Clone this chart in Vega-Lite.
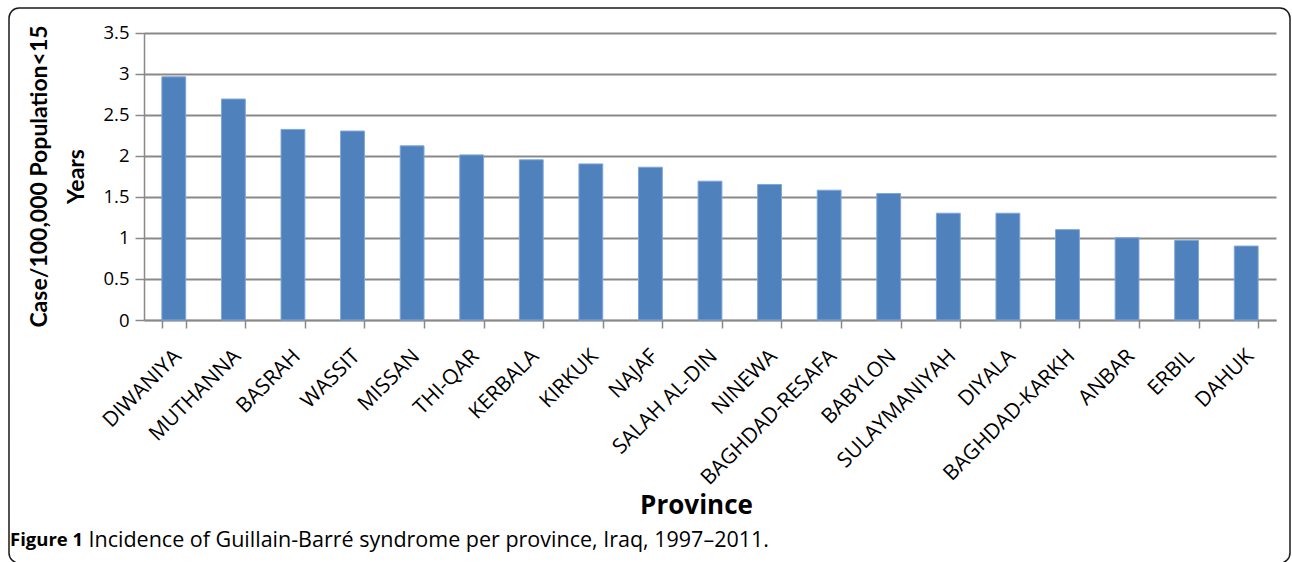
{
  "$schema": "https://vega.github.io/schema/vega-lite/v6.json",
  "width": 1281,
  "height": 555,
  "autosize": {"type": "none"},
  "padding": {"left": 9, "top": 8, "right": 2, "bottom": 0},
  "background": "white",
  "config": {
    "view": {"stroke": "#1a1a1a", "strokeWidth": 1.5, "cornerRadius": 10},
    "font": "Open Sans"
  },
  "title": {
    "text": "Figure 1",
    "orient": "bottom",
    "anchor": "start",
    "frame": "group",
    "offset": -23,
    "baseline": "middle",
    "font": "Open Sans",
    "fontSize": 18.5,
    "fontWeight": "bold",
    "color": "black",
    "dx": 1
  },
  "data": {
    "values": [
      {"province": "DIWANIYA", "rate": 2.96},
      {"province": "MUTHANNA", "rate": 2.69},
      {"province": "BASRAH", "rate": 2.32},
      {"province": "WASSIT", "rate": 2.30},
      {"province": "MISSAN", "rate": 2.12},
      {"province": "THI-QAR", "rate": 2.01},
      {"province": "KERBALA", "rate": 1.95},
      {"province": "KIRKUK", "rate": 1.90},
      {"province": "NAJAF", "rate": 1.86},
      {"province": "SALAH AL-DIN", "rate": 1.69},
      {"province": "NINEWA", "rate": 1.65},
      {"province": "BAGHDAD-RESAFA", "rate": 1.58},
      {"province": "BABYLON", "rate": 1.54},
      {"province": "SULAYMANIYAH", "rate": 1.30},
      {"province": "DIYALA", "rate": 1.30},
      {"province": "BAGHDAD-KARKH", "rate": 1.10},
      {"province": "ANBAR", "rate": 1.00},
      {"province": "ERBIL", "rate": 0.97},
      {"province": "DAHUK", "rate": 0.90}
    ]
  },
  "encoding": {
    "y": {
      "field": "rate",
      "type": "quantitative",
      "scale": {"domain": [0, 3.5], "range": [312, 24.5], "nice": false, "zero": true},
      "axis": {
        "orient": "left",
        "offset": -135,
        "values": [0, 0.5, 1, 1.5, 2, 2.5, 3, 3.5],
        "format": "~g",
        "grid": true,
        "gridColor": "#898989",
        "gridWidth": 1.8,
        "tickSize": 9,
        "tickWidth": 1.5,
        "tickColor": "#898989",
        "domainColor": "#898989",
        "domainWidth": 1.5,
        "labelPadding": 6,
        "labelFont": "Open Sans",
        "labelFontSize": 18.5,
        "labelColor": "black",
        "title": ["Case/100,000 Population<15", "Years"],
        "titleFont": "Lato",
        "titleFontSize": 23,
        "titleFontWeight": "bold",
        "titleColor": "black",
        "titleLineHeight": 37,
        "titleAngle": -90,
        "titleX": -105,
        "titleY": 168,
        "titleAlign": "center",
        "titleBaseline": "middle"
      }
    }
  },
  "layer": [
    {
      "mark": {"type": "bar", "color": "#4f81bd"},
      "encoding": {
        "x": {
          "field": "province",
          "type": "nominal",
          "sort": null,
          "scale": {"range": [135, 1267], "paddingInner": 0.6, "paddingOuter": 0.3},
          "axis": {
            "orient": "bottom",
            "offset": -243,
            "grid": false,
            "tickBand": "extent",
            "tickSize": 8,
            "tickWidth": 1.5,
            "tickColor": "#898989",
            "domainColor": "#898989",
            "domainWidth": 1.5,
            "labelAngle": -45,
            "labelAlign": "right",
            "labelBaseline": "top",
            "labelPadding": 17,
            "labelOffset": -4,
            "labelFont": "Open Sans",
            "labelFontSize": 21,
            "labelColor": "black",
            "labelOverlap": false,
            "labelLimit": 400,
            "labelBound": false,
            "title": "Province",
            "titleFont": "Open Sans",
            "titleFontSize": 26,
            "titleFontWeight": "bold",
            "titleColor": "black",
            "titleX": 687,
            "titleY": 185,
            "titleAlign": "center",
            "titleBaseline": "middle"
          }
        }
      }
    },
    {
      "mark": {"type": "bar", "fillOpacity": 0, "stroke": "#7ea6d8", "strokeWidth": 1},
      "encoding": {
        "x": {
          "field": "province",
          "type": "nominal",
          "sort": null,
          "scale": {"range": [135, 1267], "paddingInner": 0.6, "paddingOuter": 0.3},
          "axis": {
            "orient": "bottom",
            "offset": 0,
            "grid": false,
            "domain": false,
            "ticks": false,
            "labels": false,
            "title": "Incidence of Guillain-Barré syndrome per province, Iraq, 1997–2011.",
            "titleFont": "Open Sans",
            "titleFontSize": 21.5,
            "titleFontWeight": "normal",
            "titleColor": "black",
            "titleX": 79,
            "titleY": -23,
            "titleAlign": "left",
            "titleBaseline": "middle"
          }
        }
      }
    }
  ],
  "resolve": {"scale": {"x": "independent"}, "axis": {"x": "independent"}}
}
